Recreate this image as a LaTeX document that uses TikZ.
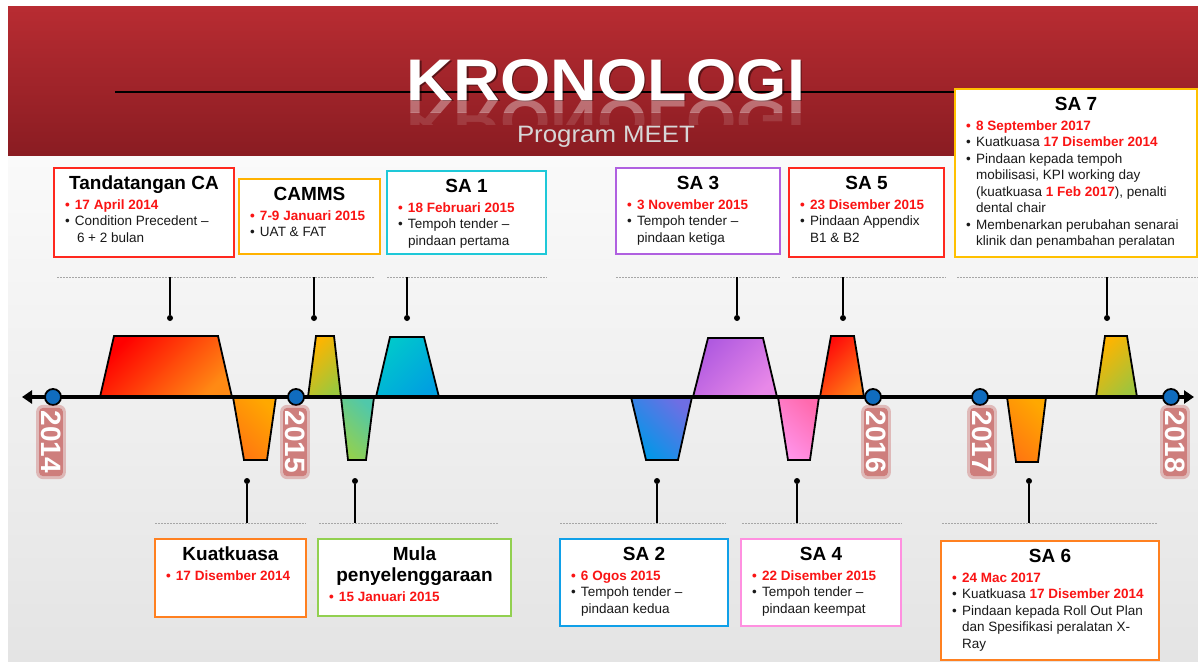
\documentclass[tikz,border=0pt]{standalone}
\usepackage{fontspec}
\setmainfont{Liberation Sans}
\usetikzlibrary{arrows.meta}
\definecolor{hdrtop}{RGB}{184,44,50}
\definecolor{hdrbot}{RGB}{138,28,34}
\definecolor{bgtop}{RGB}{250,250,250}
\definecolor{bgbot}{RGB}{228,228,228}
\definecolor{datered}{RGB}{250,20,20}
\definecolor{bred}{RGB}{255,40,30}
\definecolor{bgold}{RGB}{255,178,0}
\definecolor{bcyan}{RGB}{30,200,216}
\definecolor{bpurple}{RGB}{176,96,224}
\definecolor{byellow}{RGB}{255,192,0}
\definecolor{borange}{RGB}{255,128,32}
\definecolor{bgreen}{RGB}{146,208,80}
\definecolor{bblue}{RGB}{16,160,232}
\definecolor{bpink}{RGB}{255,144,224}
\definecolor{yearblue}{RGB}{16,108,190}
\definecolor{glowred}{RGB}{196,88,86}
\definecolor{subgray}{RGB}{215,215,215}
\definecolor{bodyblack}{RGB}{25,25,25}
\newcommand{\tfont}{\fontsize{19}{21}\selectfont\bfseries}
\newcommand{\bfont}{\fontsize{13.5}{16.5}\selectfont\mdseries\color{bodyblack}}
\newcommand{\yearfont}{\fontsize{28}{28}\selectfont\bfseries}
\newcommand{\bigtitlefont}{\fontsize{58.7}{60}\selectfont\bfseries}
\newcommand{\rd}[1]{\textcolor{datered}{\bfseries #1}}
\newcommand{\bitem}[1]{\par\hangindent=10pt\hangafter=1\noindent\makebox[10pt][l]{•}#1\par}
\newcommand{\ritem}[1]{\par\hangindent=10pt\hangafter=1\noindent{\color{datered}\bfseries\makebox[10pt][l]{•}#1}\par}
\newcommand{\boxtext}[3]{\parbox[t]{#1}{{\centering\tfont\rule{0pt}{21pt}#2\par}\vspace{3.5pt}\raggedright\leftskip=11pt\bfont #3}}
\begin{document}
\begin{tikzpicture}[x=1pt,y=-1pt,
  trap/.style={draw=black, line width=1.8pt},
  infobox/.style={draw, line width=2.5pt, fill=white, inner sep=0pt, outer sep=0pt, anchor=north west},
  boxtxt/.style={inner sep=0pt, outer sep=0pt, anchor=north west},
  guide/.style={draw=gray!70, line width=1pt, dash pattern=on 1.5pt off 1.5pt},
  dotst/.style={circle, fill=black, inner sep=0pt, minimum size=6pt},
  stem/.style={draw=black, line width=1.2pt},
  yearcirc/.style={circle, draw=black, line width=1.8pt, fill=yearblue, minimum size=16pt, inner sep=0pt},
  yearglow/.style={rotate=-90, text=white, font=\yearfont, fill=glowred, fill opacity=0.35, text opacity=0, rounded corners=7pt, inner xsep=6pt, inner ysep=5pt},
  yearlab/.style={rotate=-90, text=white, font=\yearfont, fill=glowred, fill opacity=0.6, text opacity=1, rounded corners=4pt, inner xsep=3pt, inner ysep=2pt}
]
\useasboundingbox (0,0) rectangle (1198,661);
\fill[white] (0,0) rectangle (1198,661);
\shade[top color=bgtop, bottom color=bgbot] (8,155) rectangle (1198,661);
\shade[top color=hdrtop, bottom color=hdrbot] (8,7) rectangle (1198,155);
% header line and title
\draw[black, line width=1.5pt] (115,92) -- (955,92);
\node[anchor=base, text=black, text opacity=0.45, inner sep=0pt] (titlesh) at (607.5,101.5) {\bigtitlefont\scalebox{1.1}[1]{KRONOLOGI}};
\node[anchor=base, text=white, inner sep=0pt] (title) at (606,100) {\bigtitlefont\scalebox{1.1}[1]{KRONOLOGI}};
\begin{scope}
\clip (380,100) rectangle (830,112);
\node[anchor=base, text=white, text opacity=0.35, inner sep=0pt] (refla) at (606,100) {\bigtitlefont\scalebox{1.1}[-1]{KRONOLOGI}};
\end{scope}
\begin{scope}
\clip (380,112) rectangle (830,124);
\node[anchor=base, text=white, text opacity=0.12, inner sep=0pt] (reflb) at (606,100) {\bigtitlefont\scalebox{1.1}[-1]{KRONOLOGI}};
\end{scope}
\node[anchor=base, text=subgray, inner sep=0pt] (sub) at (606,142) {\fontsize{23.7}{24}\selectfont\scalebox{1.09}[1]{Program MEET}};
% dotted guide lines
\foreach \a/\b in {57/237, 240/375, 387/547, 616/780, 792/946, 957/1198}
  \draw[guide] (\a,277) -- (\b,277);
\foreach \a/\b in {155/306, 319/499, 560/726, 742/902, 942/1158}
  \draw[guide] (\a,523) -- (\b,523);
% stems with dots
\foreach \n/\x in {1/170, 2/314, 3/407, 4/737, 5/843, 6/1107} {
  \node[dotst] (p\n) at (\x,318) {};
  \coordinate (q\n) at (\x,277);
  \draw[stem] (p\n) -- (q\n);
}
\foreach \n/\x in {7/247, 8/355, 9/657, 10/797, 11/1029} {
  \node[dotst] (p\n) at (\x,481) {};
  \coordinate (q\n) at (\x,523);
  \draw[stem] (p\n) -- (q\n);
}
% trapezoids above
\shadedraw[trap, top color=red, middle color={rgb,255:red,255;green,60;blue,16}, bottom color={rgb,255:red,255;green,138;blue,20}, shading angle=45] (100,397) -- (114,336) -- (218,336) -- (232,397) -- cycle;
\shadedraw[trap, top color={rgb,255:red,255;green,180;blue,0}, middle color={rgb,255:red,255;green,176;blue,0}, bottom color={rgb,255:red,156;green,200;blue,60}, shading angle=45] (308,397) -- (316,336) -- (334,336) -- (341,397) -- cycle;
\shadedraw[trap, top color={rgb,255:red,0;green,200;blue,204}, middle color={rgb,255:red,0;green,192;blue,208}, bottom color={rgb,255:red,0;green,160;blue,224}, shading angle=45] (376,397) -- (390,337) -- (424,337) -- (439,397) -- cycle;
\shadedraw[trap, top color={rgb,255:red,176;green,90;blue,224}, middle color={rgb,255:red,176;green,90;blue,224}, bottom color={rgb,255:red,232;green,136;blue,232}, shading angle=45] (693,397) -- (708,338) -- (763,338) -- (777,397) -- cycle;
\shadedraw[trap, top color={rgb,255:red,255;green,10;blue,10}, middle color={rgb,255:red,255;green,48;blue,16}, bottom color={rgb,255:red,255;green,122;blue,20}, shading angle=45] (820,397) -- (831,336) -- (854,336) -- (864,397) -- cycle;
\shadedraw[trap, top color={rgb,255:red,255;green,180;blue,0}, middle color={rgb,255:red,255;green,176;blue,0}, bottom color={rgb,255:red,160;green,196;blue,60}, shading angle=45] (1096,397) -- (1105,336) -- (1127,336) -- (1137,397) -- cycle;
% trapezoids below
\shadedraw[trap, top color={rgb,255:red,255;green,168;blue,0}, middle color={rgb,255:red,255;green,128;blue,16}, bottom color={rgb,255:red,255;green,120;blue,16}, shading angle=-45] (233,397) -- (244,460) -- (267,460) -- (276,397) -- cycle;
\shadedraw[trap, top color={rgb,255:red,80;green,200;blue,170}, middle color={rgb,255:red,146;green,208;blue,80}, bottom color={rgb,255:red,146;green,208;blue,80}, shading angle=-45] (341,397) -- (348,460) -- (366,460) -- (374,397) -- cycle;
\shadedraw[trap, top color={rgb,255:red,110;green,110;blue,228}, middle color={rgb,255:red,0;green,152;blue,232}, bottom color={rgb,255:red,0;green,152;blue,232}, shading angle=-45] (631,397) -- (646,460) -- (678,460) -- (692,397) -- cycle;
\shadedraw[trap, top color={rgb,255:red,255;green,106;blue,174}, middle color={rgb,255:red,255;green,144;blue,230}, bottom color={rgb,255:red,255;green,148;blue,234}, shading angle=-45] (778,397) -- (788,460) -- (810,460) -- (819,397) -- cycle;
\shadedraw[trap, top color={rgb,255:red,255;green,168;blue,0}, middle color={rgb,255:red,255;green,128;blue,16}, bottom color={rgb,255:red,255;green,120;blue,16}, shading angle=-45] (1007,397) -- (1016,462) -- (1038,462) -- (1046,397) -- cycle;
% axis
\coordinate (axl) at (22,397);
\coordinate (axr) at (1194,397);
\draw[line width=3.8pt, {Triangle[length=10pt,width=13pt]}-{Triangle[length=10pt,width=13pt]}] (axl) -- (axr);
% years
\foreach \n/\cx/\lx in {2014/53/51, 2015/296/295, 2016/873/876, 2017/980/982, 2018/1171/1175} {
  \node[yearcirc] (c\n) at (\cx,397) {};
  \node[yearglow] (g\n) at (\lx,442) {\n};
  \node[yearlab] (l\n) at (\lx,442) {\n};
}
% info boxes top
\node[infobox, draw=bred, minimum width=180pt, minimum height=89pt] (tca) at (54,168) {};
\node[boxtxt] (tcaT) at (tca.north west) {\boxtext{180pt}{Tandatangan CA}{\ritem{17 April 2014}\bitem{Condition Precedent –\newline\hspace*{2pt}6 + 2 bulan}}};
\node[infobox, draw=bgold, minimum width=141pt, minimum height=75pt] (camms) at (239,179) {};
\node[boxtxt] (cammsT) at (camms.north west) {\boxtext{141pt}{CAMMS}{\ritem{7-9 Januari 2015}\bitem{UAT \& FAT}}};
\node[infobox, draw=bcyan, minimum width=159pt, minimum height=83pt] (sa1) at (387,171) {};
\node[boxtxt] (sa1T) at (sa1.north west) {\boxtext{159pt}{SA 1}{\ritem{18 Februari 2015}\bitem{Tempoh tender –\newline pindaan pertama}}};
\node[infobox, draw=bpurple, minimum width=164pt, minimum height=86pt] (sa3) at (616,168) {};
\node[boxtxt] (sa3T) at (sa3.north west) {\boxtext{164pt}{SA 3}{\ritem{3 November 2015}\bitem{Tempoh tender –\newline pindaan ketiga}}};
\node[infobox, draw=bred, minimum width=155pt, minimum height=89pt] (sa5) at (789,168) {};
\node[boxtxt] (sa5T) at (sa5.north west) {\boxtext{155pt}{SA 5}{\ritem{23 Disember 2015}\bitem{Pindaan Appendix\newline B1 \& B2}}};
\node[infobox, draw=byellow, minimum width=242pt, minimum height=168pt] (sa7) at (955,89) {};
\node[boxtxt] (sa7T) at (sa7.north west) {\boxtext{242pt}{SA 7}{\ritem{8 September 2017}\bitem{Kuatkuasa \rd{17 Disember 2014}}\bitem{Pindaan kepada tempoh\newline mobilisasi, KPI working day\newline (kuatkuasa \rd{1 Feb 2017}), penalti\newline dental chair}\bitem{Membenarkan perubahan senarai\newline klinik dan penambahan peralatan}}};
% info boxes bottom
\node[infobox, draw=borange, minimum width=151pt, minimum height=78pt] (kuat) at (155,539) {};
\node[boxtxt] (kuatT) at (kuat.north west) {\boxtext{151pt}{Kuatkuasa}{\ritem{17 Disember 2014}}};
\node[infobox, draw=bgreen, minimum width=193pt, minimum height=77pt] (mula) at (318,539) {};
\node[boxtxt] (mulaT) at (mula.north west) {\boxtext{193pt}{Mula\\penyelenggaraan}{\ritem{15 Januari 2015}}};
\node[infobox, draw=bblue, minimum width=168pt, minimum height=87pt] (sa2) at (560,539) {};
\node[boxtxt] (sa2T) at (sa2.north west) {\boxtext{168pt}{SA 2}{\ritem{6 Ogos 2015}\bitem{Tempoh tender –\newline pindaan kedua}}};
\node[infobox, draw=bpink, minimum width=160pt, minimum height=87pt] (sa4) at (741,539) {};
\node[boxtxt] (sa4T) at (sa4.north west) {\boxtext{160pt}{SA 4}{\ritem{22 Disember 2015}\bitem{Tempoh tender –\newline pindaan keempat}}};
\node[infobox, draw=borange, minimum width=218pt, minimum height=119pt] (sa6) at (941,541) {};
\node[boxtxt] (sa6T) at (sa6.north west) {\boxtext{218pt}{SA 6}{\ritem{24 Mac 2017}\bitem{Kuatkuasa \rd{17 Disember 2014}}\bitem{Pindaan kepada Roll Out Plan\newline dan Spesifikasi peralatan X-\newline Ray}}};
\end{tikzpicture}
\end{document}
